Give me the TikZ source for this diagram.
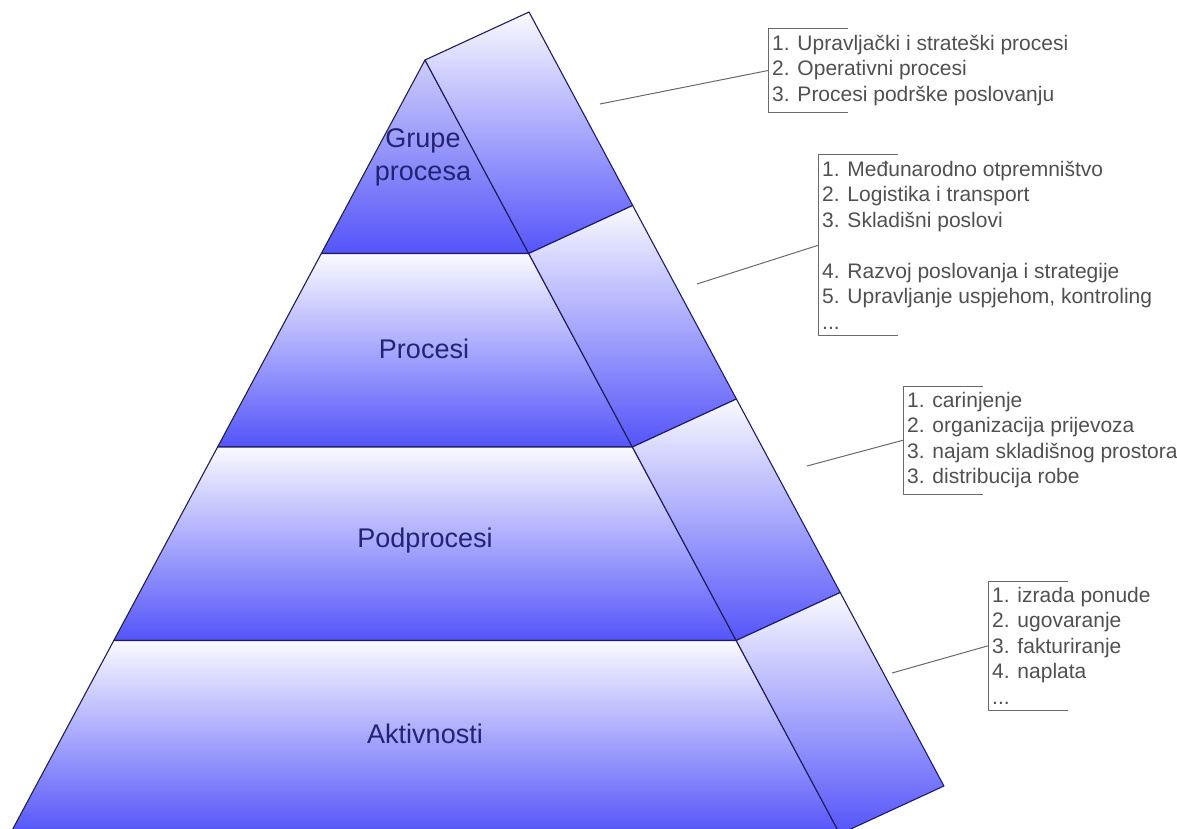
\documentclass[tikz,border=0pt]{standalone}
\usepackage{fontspec}
\setmainfont{Liberation Sans}
\usetikzlibrary{calc,positioning}
\definecolor{pyrline}{RGB}{30,30,95}
\definecolor{pyrtop}{RGB}{250,250,255}
\definecolor{pyrmid}{RGB}{178,178,250}
\definecolor{pyrdeep}{RGB}{84,84,250}
\definecolor{pyrapex}{RGB}{205,205,250}
\definecolor{labelnavy}{RGB}{35,35,115}
\definecolor{listgray}{RGB}{80,80,80}
\definecolor{leadgray}{RGB}{105,105,105}
\tikzset{
pyramid/.style={x=1pt,y=-1pt,line join=round},
pyrband/.style={draw=pyrline,line width=1.1pt,
top color=pyrtop,middle color=pyrmid,bottom color=pyrdeep},
tier/.style={font=\fontsize{27}{33}\selectfont,text=labelnavy,align=center},
itembox/.style={font=\fontsize{21}{25.5}\selectfont,text=listgray,align=left,
anchor=north west,inner xsep=4pt,inner ysep=6pt},
bracket/.style={draw=leadgray,line width=1pt},
leader/.style={draw=leadgray,line width=1pt},
}

\begin{document}
\begin{tikzpicture}[pyramid]
\useasboundingbox (0,0) rectangle (1177,829);
\clip (0,0) rectangle (1177,829);

% front face
\coordinate (t) at (425,60);
\coordinate (l1) at (321.3,253.5);
\coordinate (r1) at (528.7,253.5);
\coordinate (l2) at (217.6,447);
\coordinate (r2) at (632.4,447);
\coordinate (l3) at (113.8,640.5);
\coordinate (r3) at (736.2,640.5);
\coordinate (l4) at (10.1,834);
\coordinate (r4) at (839.9,834);

% side face, shifted back
\coordinate (s0) at ($(t)+(104,-48)$);
\coordinate (s1) at ($(r1)+(104,-48)$);
\coordinate (s2) at ($(r2)+(104,-48)$);
\coordinate (s3) at ($(r3)+(104,-48)$);
\coordinate (s4) at ($(r4)+(104,-48)$);

\path[pyrband,top color=pyrapex] (t) -- (r1) -- (l1) -- cycle;
\path[pyrband] (l1) -- (r1) -- (r2) -- (l2) -- cycle;
\path[pyrband] (l2) -- (r2) -- (r3) -- (l3) -- cycle;
\path[pyrband] (l3) -- (r3) -- (r4) -- (l4) -- cycle;

\path[pyrband] (t) -- (s0) -- (s1) -- (r1) -- cycle;
\path[pyrband] (r1) -- (s1) -- (s2) -- (r2) -- cycle;
\path[pyrband] (r2) -- (s2) -- (s3) -- (r3) -- cycle;
\path[pyrband] (r3) -- (s3) -- (s4) -- (r4) -- cycle;

\node[tier] (grupe) at (423,157) {Grupe\\procesa};
\node[tier] (procesi) at (424,349) {Procesi};
\node[tier] (podprocesi) at (425,541) {Podprocesi};
\node[tier] (aktivnosti) at (425,734) {Aktivnosti};

% lists
\node[itembox] (lgrupe) at (768,29) {1. Upravljački i strateški procesi\\
2. Operativni procesi\\3. Procesi podrške poslovanju};
\node[itembox] (lprocesi) at (818,155) {1. Međunarodno otpremništvo\\
2. Logistika i transport\\3. Skladišni poslovi\\[25.5pt]
4. Razvoj poslovanja i strategije\\5. Upravljanje uspjehom, kontroling\\...};
\node[itembox] (lpodprocesi) at (903,386) {1. carinjenje\\
2. organizacija prijevoza\\3. najam skladišnog prostora\\3. distribucija robe};
\node[itembox] (laktivnosti) at (988,581) {1. izrada ponude\\
2. ugovaranje\\3. fakturiranje\\4. naplata\\...};

\foreach \n in {lgrupe,lprocesi,lpodprocesi,laktivnosti}
\draw[bracket] ($(\n.north west)+(80,0)$) -- (\n.north west) -- (\n.south west) -- ++(80,0);

\coordinate (cgrupe) at (600,104);
\coordinate (cprocesi) at (697,284);
\coordinate (cpodprocesi) at (807,466);
\coordinate (caktivnosti) at (892,673);

\draw[leader] (cgrupe) -- (lgrupe.west);
\draw[leader] (cprocesi) -- (lprocesi.west);
\draw[leader] (cpodprocesi) -- (lpodprocesi.west);
\draw[leader] (caktivnosti) -- (laktivnosti.west);
\end{tikzpicture}
\end{document}
